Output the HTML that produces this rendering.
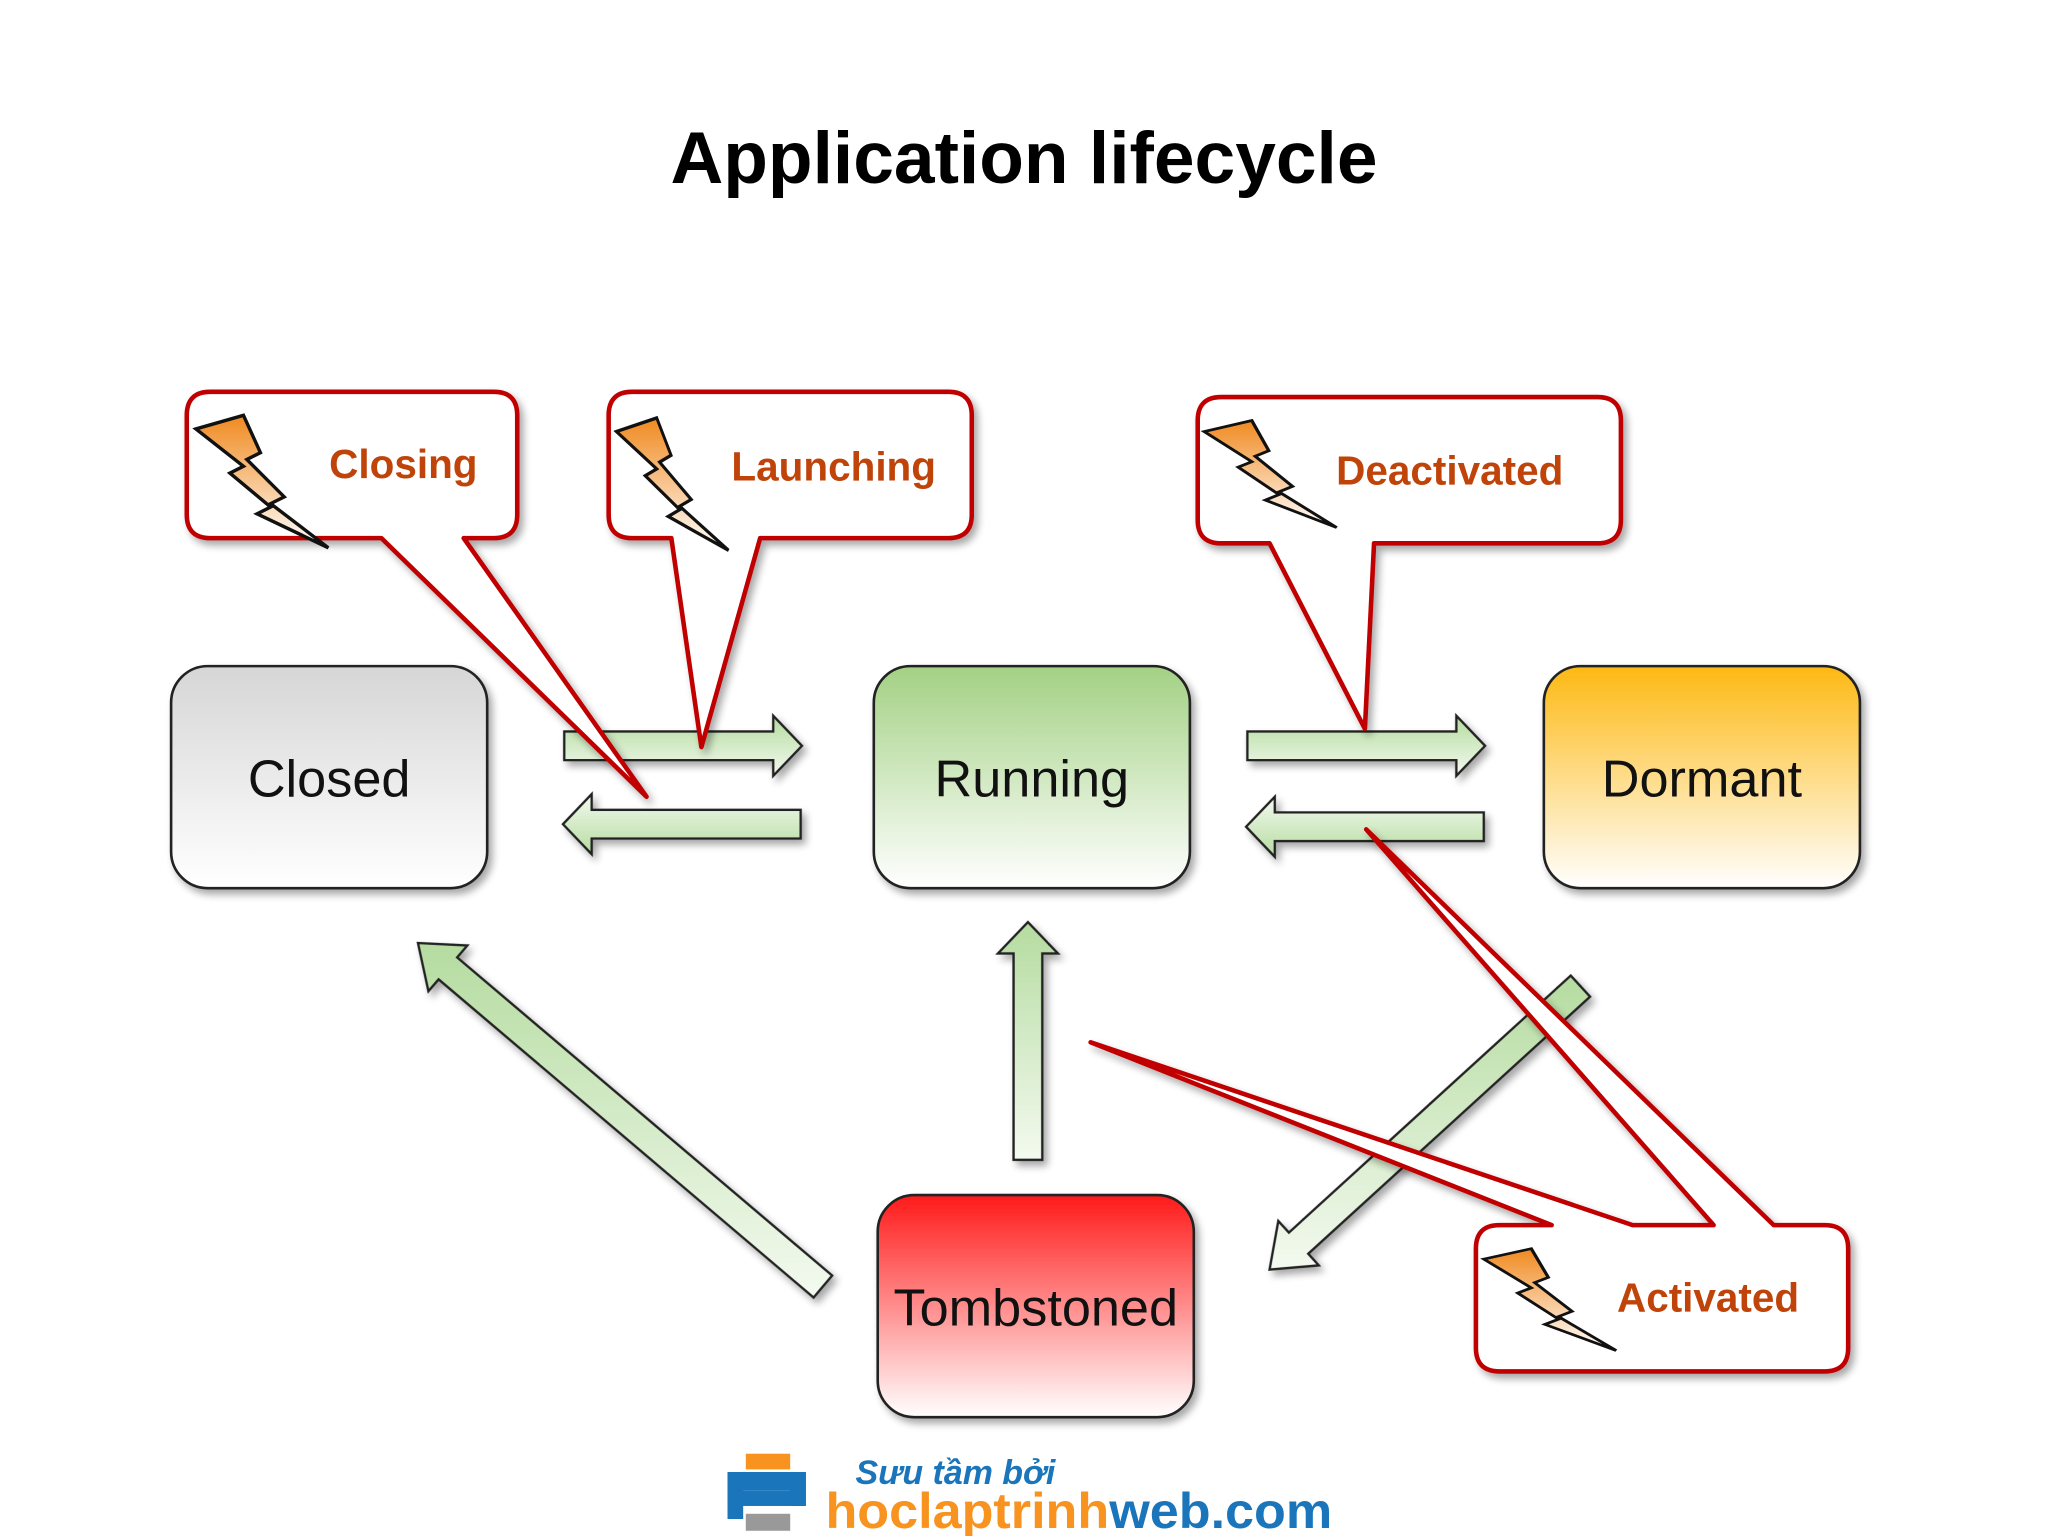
<!DOCTYPE html>
<html><head><meta charset="utf-8"><style>html,body{margin:0;padding:0;background:#fff}svg{display:block}</style></head>
<body>
<svg width="2048" height="1536" viewBox="0 0 1568 1176" xmlns="http://www.w3.org/2000/svg" font-family="'Liberation Sans', 'DejaVu Sans', sans-serif">
<defs>
<linearGradient id="gC" x1="0" y1="0" x2="0" y2="1"><stop offset="0" stop-color="#d6d6d6"/><stop offset="1" stop-color="#fff"/></linearGradient>
<linearGradient id="gR" x1="0" y1="0" x2="0" y2="1"><stop offset="0" stop-color="#a3d184"/><stop offset="1" stop-color="#fff"/></linearGradient>
<linearGradient id="gD" x1="0" y1="0" x2="0" y2="1"><stop offset="0" stop-color="#fdb913"/><stop offset="1" stop-color="#fff"/></linearGradient>
<linearGradient id="gT" x1="0" y1="0" x2="0" y2="1"><stop offset="0" stop-color="#ff1a1a"/><stop offset="1" stop-color="#fff"/></linearGradient>
<linearGradient id="gA" x1="0" y1="0" x2="0" y2="1"><stop offset="0" stop-color="#b5dca0"/><stop offset="1" stop-color="#f4faf0"/></linearGradient>
<linearGradient id="gL" x1="0" y1="0" x2="0" y2="1"><stop offset="0" stop-color="#f08a20"/><stop offset="1" stop-color="#fff"/></linearGradient>
<filter id="sh" x="-10%" y="-10%" width="130%" height="130%"><feGaussianBlur in="SourceAlpha" stdDeviation="3"/><feOffset dx="3" dy="4"/><feComponentTransfer><feFuncA type="linear" slope="0.35"/></feComponentTransfer><feMerge><feMergeNode/><feMergeNode in="SourceGraphic"/></feMerge></filter>
<g id="bolt"><path d="M0,8 L28,0 L38,22 L30,26 L52,48 L44,52 L78,78 L36,58 L44,54 L20,34 L28,30 Z" fill="url(#gL)" stroke="#111" stroke-width="2" stroke-linejoin="miter"/></g>
<path id="arr" d="M0,-11 L-160,-11 L-160,11 L0,11 L0,23 L22,0 L0,-23 Z"/>
</defs>

<text x="784" y="140" text-anchor="middle" font-size="56" font-weight="bold" fill="#000">Application lifecycle</text>

<g filter="url(#sh)" stroke="#222" stroke-width="2">
<rect x="131" y="510" width="242" height="170" rx="28" fill="url(#gC)"/>
<rect x="669" y="510" width="242" height="170" rx="28" fill="url(#gR)"/>
<rect x="1182" y="510" width="242" height="170" rx="28" fill="url(#gD)"/>
<rect x="672" y="915" width="242" height="170" rx="28" fill="url(#gT)"/>
</g>
<g font-size="40" text-anchor="middle" fill="#111">
<text x="252" y="610">Closed</text>
<text x="790" y="610">Running</text>
<text x="1303" y="610">Dormant</text>
<text x="793" y="1015">Tombstoned</text>
</g>

<g fill="url(#gA)" stroke="#222" stroke-width="1.8" filter="url(#sh)">
<use href="#arr" transform="translate(592,571)"/>
<use href="#arr" transform="translate(453,631) rotate(180)"/>
<use href="#arr" transform="translate(1115,571)"/>
<use href="#arr" transform="translate(976,633) rotate(180)"/>
<path d="M776,888 L798,888 L798,730 L810,730 L787,706 L764,730 L776,730 Z"/>
<path d="M637.1,976.6 L350,733 L357.8,723.9 L320,722 L328,758.9 L335.8,749.8 L622.9,993.4 Z"/>
<path d="M1217.4,763.1 L1001.6,959.9 L1009.7,968.8 L972,972 L978.7,934.8 L986.8,943.7 L1202.6,746.9 Z"/>
</g>

<g fill="#fff" stroke="#c00000" stroke-width="3.5" stroke-linejoin="round" filter="url(#sh)">
<path d="M161,300 L378,300 Q396,300 396,318 L396,394 Q396,412 378,412 L355,412 L495,610 L292,412 L161,412 Q143,412 143,394 L143,318 Q143,300 161,300 Z"/>
<path d="M484,300 L726,300 Q744,300 744,318 L744,394 Q744,412 726,412 L582,412 L537,572 L514,412 L484,412 Q466,412 466,394 L466,318 Q466,300 484,300 Z"/>
<path d="M935,304 L1223,304 Q1241,304 1241,322 L1241,398 Q1241,416 1223,416 L1052,416 L1045,558 L972,416 L935,416 Q917,416 917,398 L917,322 Q917,304 935,304 Z"/>
<path d="M1148,938 L1188,938 L835,798 L1250,938 L1312,938 L1046,635 L1358,938 L1397,938 Q1415,938 1415,956 L1415,1032 Q1415,1050 1397,1050 L1148,1050 Q1130,1050 1130,1032 L1130,956 Q1130,938 1148,938 Z"/>
</g>
<use href="#bolt" transform="translate(150,318) scale(1.3)"/>
<use href="#bolt" transform="translate(472,320) scale(1.1,1.3)"/>
<use href="#bolt" transform="translate(922,322) scale(1.3,1.05)"/>
<use href="#bolt" transform="translate(1136,956) scale(1.3,1.0)"/>
<g font-size="31" font-weight="bold" fill="#c0440a">
<text x="252" y="366">Closing</text>
<text x="560" y="368">Launching</text>
<text x="1023" y="371">Deactivated</text>
<text x="1238" y="1004">Activated</text>
</g>

<rect x="557" y="1127" width="12" height="36" fill="#1a75bb"/>
<rect x="557" y="1127" width="60" height="14" fill="#1a75bb"/>
<rect x="605" y="1127" width="12" height="26" fill="#1a75bb"/>
<rect x="557" y="1141" width="60" height="12" fill="#1a75bb"/>
<rect x="571" y="1113" width="34" height="12" fill="#f7931e"/>
<rect x="571" y="1159" width="34" height="13" fill="#999"/>
<text x="655" y="1136" font-size="26" font-style="italic" font-weight="bold" fill="#1a75bb">Sưu tầm bởi</text>
<text x="632" y="1170" font-size="38" font-weight="bold" textLength="388" lengthAdjust="spacingAndGlyphs"><tspan fill="#f7931e">hoclaptrinh</tspan><tspan fill="#1a75bb">web.com</tspan></text>
</svg>
</body></html>
